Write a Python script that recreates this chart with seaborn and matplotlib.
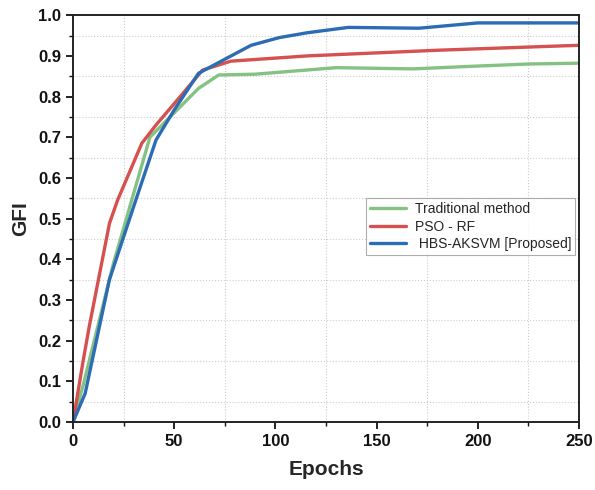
import numpy as np
import matplotlib
matplotlib.use("Agg")
import matplotlib.pyplot as plt
import pandas as pd
import seaborn as sns
from matplotlib.ticker import MultipleLocator

# series values
trad_x = [0, 5, 20, 38, 50, 62, 72, 90, 130, 168, 200, 225, 250]
trad_y = [0.0, 0.09, 0.39, 0.70, 0.76, 0.82, 0.853, 0.855, 0.871, 0.868, 0.875, 0.880, 0.882]

pso_x = [0, 5, 8, 18, 22, 34, 41, 53, 64, 78, 116, 181, 250]
pso_y = [0.0, 0.15, 0.234, 0.488, 0.545, 0.685, 0.73, 0.80, 0.865, 0.887, 0.90, 0.914, 0.926]

hbs_x = [0, 6, 18, 31, 41, 50, 62, 74, 88, 102, 116, 136, 171, 200, 250]
hbs_y = [0.0, 0.07, 0.35, 0.545, 0.693, 0.767, 0.857, 0.889, 0.926, 0.945, 0.957, 0.970, 0.968, 0.981, 0.981]

labels = ["Traditional method", "PSO - RF", " HBS-AKSVM [Proposed]"]
colors = ["#84c283", "#d6504f", "#2b6cb4"]

frames = []
for lab, xs, ys in zip(labels, [trad_x, pso_x, hbs_x], [trad_y, pso_y, hbs_y]):
    frames.append(pd.DataFrame({"Epochs": xs, "GFI": ys, "method": lab}))
df = pd.concat(frames, ignore_index=True)

sns.set_style("ticks")
plt.rcParams["font.family"] = ["Liberation Sans", "DejaVu Sans"]

fig = plt.figure(figsize=(5.95, 4.9), dpi=100)
ax = fig.add_axes([0.1227, 0.1388, 0.8503, 0.8302])

sns.lineplot(data=df, x="Epochs", y="GFI", hue="method", hue_order=labels,
             palette=colors, linewidth=2.4, sort=False, estimator=None, ax=ax)

ax.set_xlim(0, 250)
ax.set_ylim(0, 1.0)
ax.xaxis.set_major_locator(MultipleLocator(50))
ax.xaxis.set_minor_locator(MultipleLocator(25))
ax.yaxis.set_major_locator(MultipleLocator(0.1))
ax.yaxis.set_minor_locator(MultipleLocator(0.05))
ax.yaxis.set_major_formatter(matplotlib.ticker.FormatStrFormatter("%.1f"))

ax.grid(which="minor", linestyle=":", color="#cccccc", linewidth=0.8)
ax.grid(which="major", visible=False)

ax.tick_params(which="major", direction="out", length=5, width=1.3,
               labelsize=12, top=False, right=False, colors="#111111")
ax.tick_params(which="minor", direction="out", length=3, width=1.0,
               top=False, right=False, colors="#111111")
for lbl in ax.get_xticklabels() + ax.get_yticklabels():
    lbl.set_fontweight("bold")

for sp in ax.spines.values():
    sp.set_visible(True)
    sp.set_linewidth(1.4)
    sp.set_color("#222222")

ax.set_xlabel("Epochs", fontsize=15, fontweight="bold", labelpad=8)
ax.set_ylabel("GFI", fontsize=15, fontweight="bold", labelpad=6)

leg = ax.legend(loc="lower left", bbox_to_anchor=(0.579, 0.41, 0.41, 0.135),
                fontsize=10, frameon=True, fancybox=False, handlelength=2.6,
                labelspacing=0.25, borderpad=0.3, handletextpad=0.6,
                borderaxespad=0)
leg.get_frame().set_edgecolor("#999999")
leg.get_frame().set_linewidth(0.8)
leg.set_title(None)

fig.savefig("out.png", dpi=100)
